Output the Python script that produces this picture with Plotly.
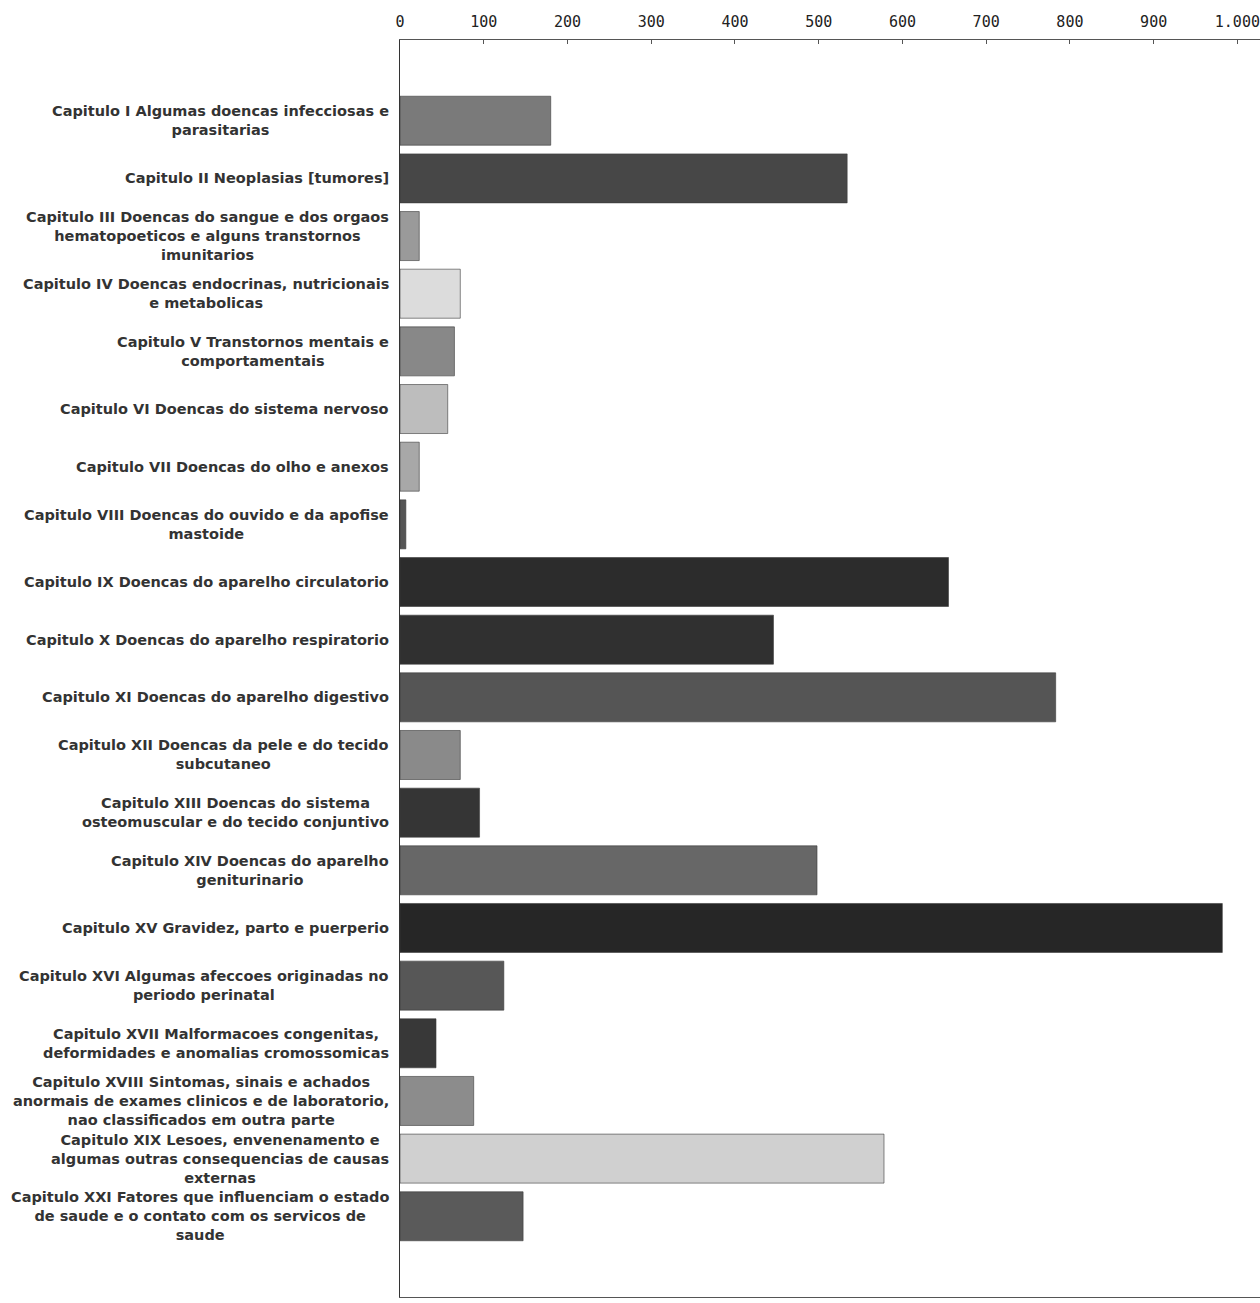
import plotly.graph_objects as go

categories = [
    "Capitulo I Algumas doencas infecciosas e<br>parasitarias",
    "Capitulo II Neoplasias [tumores]",
    "Capitulo III Doencas do sangue e dos orgaos<br>hematopoeticos e alguns transtornos<br>imunitarios",
    "Capitulo IV Doencas endocrinas, nutricionais<br>e metabolicas",
    "Capitulo V Transtornos mentais e<br>comportamentais",
    "Capitulo VI Doencas do sistema nervoso",
    "Capitulo VII Doencas do olho e anexos",
    "Capitulo VIII Doencas do ouvido e da apofise<br>mastoide",
    "Capitulo IX Doencas do aparelho circulatorio",
    "Capitulo X Doencas do aparelho respiratorio",
    "Capitulo XI Doencas do aparelho digestivo",
    "Capitulo XII Doencas da pele e do tecido<br>subcutaneo",
    "Capitulo XIII Doencas do sistema<br>osteomuscular e do tecido conjuntivo",
    "Capitulo XIV Doencas do aparelho<br>geniturinario",
    "Capitulo XV Gravidez, parto e puerperio",
    "Capitulo XVI Algumas afeccoes originadas no<br>periodo perinatal",
    "Capitulo XVII Malformacoes congenitas,<br>deformidades e anomalias cromossomicas",
    "Capitulo XVIII Sintomas, sinais e achados<br>anormais de exames clinicos e de laboratorio,<br>nao classificados em outra parte",
    "Capitulo XIX Lesoes, envenenamento e<br>algumas outras consequencias de causas<br>externas",
    "Capitulo XXI Fatores que influenciam o estado<br>de saude e o contato com os servicos de<br>saude",
]
values = [180, 534, 23, 72, 65, 57, 23, 7, 655, 446, 783, 72, 95, 498, 982, 124, 43, 88, 578, 147]
bar_colors = ["#7a7a7a", "#474747", "#9a9a9a", "#dcdcdc", "#888888", "#bdbdbd", "#a8a8a8",
              "#555555", "#2c2c2c", "#303030", "#555555", "#8a8a8a", "#353535", "#676767",
              "#262626", "#575757", "#383838", "#8c8c8c", "#d0d0d0", "#5a5a5a"]
x_ticks = [0, 100, 200, 300, 400, 500, 600, 700, 800, 900, 1000]

ypos = list(range(len(categories)))

fig = go.Figure()
fig.add_trace(go.Bar(
    x=values, y=ypos, orientation="h",
    marker=dict(color=bar_colors, line=dict(color="#3a3a3a", width=0.6)),
    width=0.85,
))

for i, c in enumerate(categories):
    fig.add_annotation(
        x=0, xref="paper", y=i, yref="y", text=c, showarrow=False,
        xanchor="right", yanchor="middle", align="center", xshift=-9,
        font=dict(family="DejaVu Sans", size=14.5, color="#333333", weight="bold"),
    )

fig.update_layout(
    width=1260, height=1303,
    margin=dict(l=400, r=0, t=40, b=6),
    plot_bgcolor="white", paper_bgcolor="white",
    showlegend=False,
    separators=",.",
    font=dict(family="DejaVu Sans Mono", size=15, color="#333333"),
)
fig.update_xaxes(
    side="top", range=[0, 1027], tickvals=x_ticks, separatethousands=True,
    showgrid=False, zeroline=False, showline=True, linecolor="#555555", linewidth=1.2,
    mirror=True, ticks="inside", ticklen=4, tickcolor="#555555", ticklabelstandoff=6,
    tickfont=dict(family="DejaVu Sans Mono", size=15, color="#222222"),
)
fig.update_yaxes(
    range=[20.4, -1.4], showticklabels=False, showgrid=False, zeroline=False,
    showline=True, linecolor="#333333", linewidth=1.2, ticks="",
)

fig.write_html("out.html")
